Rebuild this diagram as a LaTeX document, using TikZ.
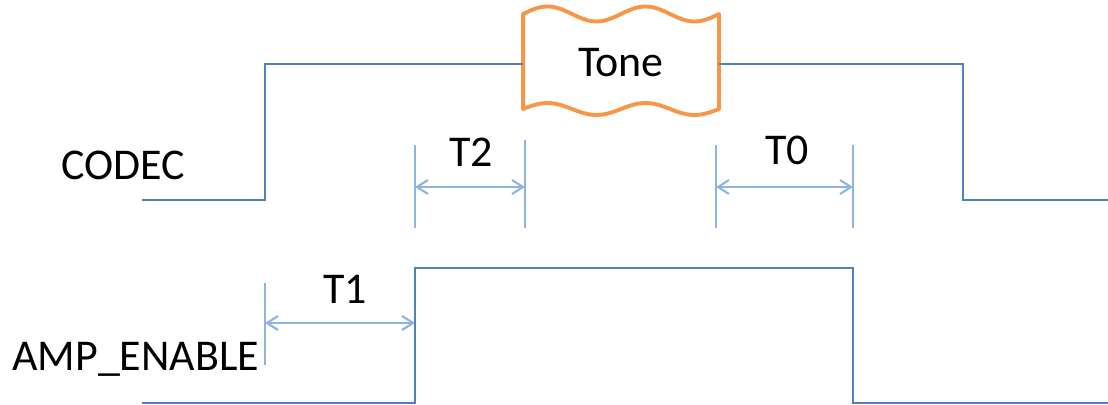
\documentclass[tikz,border=0pt]{standalone}
\usepackage{fontspec}
\setmainfont{Carlito}
\usetikzlibrary{arrows.meta}
\definecolor{TDWire}{HTML}{4F81BD}
\definecolor{TDTick}{HTML}{8EB4E3}
\definecolor{TDTone}{HTML}{F79646}
\tikzset{
  wire/.style={TDWire,line width=1.1pt},
  edgeline/.style={TDTick,line width=1.2pt},
  spanarrow/.style={{Straight Barb[length=2.2mm,width=2.8mm]}-{Straight Barb[length=2.2mm,width=2.8mm]},
                    TDTick,line width=1.2pt},
  tonebox/.style={draw=TDTone,line width=2.2pt,fill=white,line join=round},
  siglabel/.style={font=\fontsize{25}{29}\selectfont,inner sep=0pt,anchor=base west},
  timelabel/.style={font=\fontsize{25}{29}\selectfont,inner sep=0pt,anchor=base},
}

\begin{document}
\begin{tikzpicture}[x=0.02cm,y=-0.02cm]
    \path[fill=white,use as bounding box] (0,0) rectangle (1108,405);

    % tone burst on the codec line
    \draw[tonebox] (523,14)
      -- plot[domain=523:719,samples=60] (\x,{14-7.5*sin(360/98*(\x-523))})
      -- (719,109)
      -- plot[domain=719:523,samples=60] (\x,{109-6*sin(360/98*(\x-523))})
      -- cycle;
    \node[timelabel] (tone) at (621,77) {Tone};
    \coordinate (toneL) at (523,64);
    \coordinate (toneR) at (719,64);

    % signals
    \node[siglabel] (codec) at (61,180) {CODEC};
    \node[siglabel] (amp) at (12,370) {AMP\_ENABLE};
    \draw[wire] (142,200) -- (265,200) -- (265,64) -- (toneL);
    \draw[wire] (toneR) -- (963,64) -- (963,200) -- (1108,200);
    \draw[wire] (142,403) -- (415,403) -- (415,268) -- (853,268) -- (853,403) -- (1108,403);

    % timing marks
    \coordinate (t1a) at (265,323);
    \coordinate (t1b) at (415,323);
    \coordinate (t2a) at (415,187);
    \coordinate (t2b) at (525,187);
    \coordinate (t0a) at (716,187);
    \coordinate (t0b) at (853,187);
    \draw[edgeline] (265,283) -- (265,365);
    \draw[edgeline] (415,145) -- (415,228);
    \draw[edgeline] (525,140) -- (525,228);
    \draw[edgeline] (716,145) -- (716,228);
    \draw[edgeline] (853,145) -- (853,228);
    \draw[spanarrow] (t1a) -- (t1b);
    \draw[spanarrow] (t2a) -- (t2b);
    \draw[spanarrow] (t0a) -- (t0b);
    \node[timelabel] (lblT1) at (345,303) {T1};
    \node[timelabel] (lblT2) at (471,167) {T2};
    \node[timelabel] (lblT0) at (787,165) {T0};
\end{tikzpicture}
\end{document}
